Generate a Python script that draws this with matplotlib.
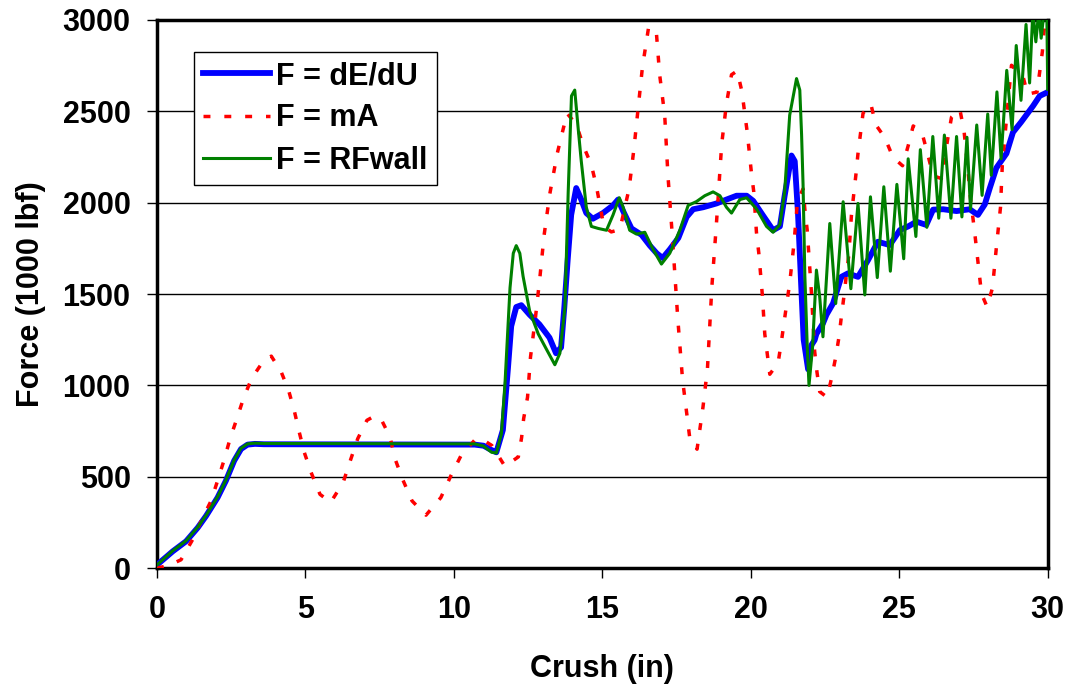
import matplotlib
matplotlib.use('Agg')
import matplotlib.pyplot as plt

plt.rcParams['font.family'] = ['Liberation Sans', 'DejaVu Sans']
plt.rcParams['font.weight'] = 'bold'

# F = dE/dU (blue)
de_x = [0, 0.53, 0.98, 1.37, 1.65, 2.04, 2.32, 2.6, 2.83, 3.05, 3.3, 3.6, 10.7, 11.0, 11.21, 11.43,
        11.65, 11.82, 11.93, 12.1, 12.27, 12.55, 12.88, 13.22, 13.44, 13.61, 13.72, 13.83, 13.95,
        14.12, 14.29, 14.46, 14.68, 15.02, 15.36, 15.53, 15.7, 15.98, 16.32, 16.6, 16.83, 17.03,
        17.27, 17.56, 17.84, 18.06, 18.4, 18.85, 19.18, 19.52, 19.86, 20.08, 20.41, 20.75, 20.98,
        21.14, 21.37, 21.48, 21.59, 21.71, 21.78, 21.93, 22.04, 22.15, 22.21, 22.43, 22.55, 22.77,
        23.05, 23.27, 23.61, 23.95, 24.28, 24.68, 25.02, 25.3, 25.58, 25.91, 26.14, 26.48, 26.93,
        27.37, 27.65, 27.88, 28.05, 28.27, 28.61, 28.83, 29.1, 29.51, 29.73, 30.0]
de_y = [18, 92, 147, 221, 285, 386, 478, 588, 652, 676, 680, 678, 676, 670, 651, 634,
        756, 1092, 1324, 1429, 1439, 1387, 1334, 1261, 1176, 1208, 1429, 1681, 1933,
        2080, 2017, 1943, 1912, 1943, 1985, 2017, 1954, 1859, 1824, 1765, 1723, 1697,
        1744, 1807, 1922, 1964, 1975, 1996, 2017, 2038, 2038, 2010, 1930, 1849, 1870,
        2038, 2258, 2227, 1940, 1500, 1250, 1088, 1220, 1248, 1282, 1339, 1387, 1449,
        1594, 1613, 1594, 1686, 1786, 1768, 1850, 1870, 1896, 1878, 1962, 1964, 1954,
        1964, 1933, 1990, 2080, 2190, 2269, 2385, 2440, 2530, 2584, 2605]

# F = mA (red)
ma_x = [0, 0.4, 0.81, 1.2, 1.54, 1.82, 2.04, 2.27, 2.46, 2.69, 2.91, 3.19, 3.61, 3.85, 4.18, 4.43,
        4.62, 4.79, 4.96, 5.19, 5.49, 5.85, 6.27, 6.51, 6.76, 7.07, 7.3, 7.54, 7.85, 8.02, 8.27,
        8.59, 9.06, 9.56, 9.9, 10.24, 10.74, 11.0, 11.28, 11.72, 12.17, 12.28, 12.35, 12.48, 12.58,
        12.75, 12.9, 13.04, 13.23, 13.48, 13.81, 14.13, 14.35, 14.63, 14.8, 15.05, 15.3, 15.59,
        15.9, 16.06, 16.2, 16.35, 16.56, 16.82, 16.93, 17.1, 17.21, 17.36, 17.54, 17.7, 17.95,
        18.19, 18.39, 18.54, 18.69, 18.84, 19.02, 19.18, 19.35, 19.54, 19.7, 19.88, 20.02, 20.1,
        20.19, 20.27, 20.39, 20.47, 20.56, 20.64, 20.92, 21.03, 21.12, 21.22, 21.31, 21.46, 21.57,
        21.76, 21.82, 21.9, 21.99, 22.04, 22.15, 22.23, 22.32, 22.57, 22.72, 22.86, 22.97, 23.05,
        23.14, 23.22, 23.3, 23.39, 23.47, 23.54, 23.61, 23.78, 24.04, 24.21, 24.51, 24.79, 25.11,
        25.3, 25.47, 25.78, 25.97, 26.14, 26.42, 26.64, 26.76, 27.04, 27.18, 27.32, 27.37, 27.54,
        27.69, 27.77, 27.96, 28.14, 28.27, 28.34, 28.41, 28.47, 28.59, 28.78, 29.0, 29.17, 29.32,
        29.64, 29.82, 29.87, 29.95]
ma_y = [0, 15, 46, 156, 276, 368, 478, 597, 708, 818, 928, 1039, 1140, 1160, 1075, 974,
        864, 745, 634, 524, 404, 360, 469, 588, 708, 809, 830, 818, 717, 597, 487,
        368, 290, 386, 506, 616, 708, 700, 671, 557, 609, 714, 819, 935, 1155,
        1376, 1597, 1824, 2048, 2269, 2489, 2426, 2315, 2206, 2090, 1870, 1840, 1853,
        2076, 2290, 2510, 2742, 2962, 2930, 2700, 2479, 2147, 1811, 1366, 1034, 704,
        651, 882, 1092, 1544, 1880, 2321, 2542, 2700, 2721, 2609, 2385, 2164, 2059,
        1838, 1723, 1492, 1282, 1166, 1061, 1124, 1239, 1345, 1460, 1559, 1786, 2006,
        2076, 1964, 1849, 1628, 1513, 1187, 1071, 966, 935, 1040, 1155, 1265, 1376,
        1492, 1607, 1712, 1933, 2048, 2153, 2269, 2489, 2542, 2426, 2357, 2248, 2202,
        2311, 2420, 2374, 2258, 2147, 2132, 2357, 2468, 2511, 2395, 2174, 2063, 1838,
        1618, 1502, 1429, 1534, 1754, 1866, 1975, 2202, 2420, 2752, 2720, 2690, 2594,
        2605, 2826, 2931, 3050]

# F = RFwall (green)
rf_x = [0, 0.53, 0.98, 1.37, 1.65, 2.04, 2.32, 2.6, 2.83, 3.05, 3.3, 3.6, 10.7, 11.0, 11.27, 11.43,
        11.6, 11.72, 11.89, 12.0, 12.1, 12.22, 12.33, 12.55, 12.84, 13.12, 13.4, 13.57, 13.74,
        13.85, 13.96, 14.07, 14.18, 14.29, 14.46, 14.63, 14.86, 15.14, 15.36, 15.57, 15.7, 15.92,
        16.15, 16.43, 16.71, 16.99, 17.27, 17.61, 17.89, 18.17, 18.45, 18.73, 18.96, 19.18, 19.35,
        19.63, 19.86, 20.2, 20.53, 20.75, 20.98, 21.14, 21.31, 21.54, 21.65, 21.71, 21.76, 21.82,
        21.9, 21.96, 22.08, 22.21, 22.32, 22.43, 22.66, 22.86, 23.11, 23.37, 23.61, 23.84, 24.03,
        24.26, 24.48, 24.7, 24.92, 25.15, 25.3, 25.56, 25.71, 25.93, 26.13, 26.33, 26.52, 26.74,
        26.93, 27.11, 27.28, 27.4, 27.61, 27.79, 27.98, 28.1, 28.29, 28.43, 28.62, 28.8, 28.94,
        29.1, 29.27, 29.39, 29.5, 29.6, 29.7, 29.78, 29.88, 29.97, 30.0]
rf_y = [18, 95, 150, 224, 288, 390, 482, 592, 656, 680, 684, 682, 680, 668, 634, 630,
        735, 1008, 1534, 1723, 1765, 1723, 1597, 1408, 1282, 1197, 1113, 1176, 1429,
        2059, 2584, 2616, 2416, 2227, 1975, 1870, 1859, 1849, 1933, 2027, 1975, 1849,
        1828, 1838, 1744, 1664, 1723, 1849, 1985, 2006, 2038, 2059, 2038, 1975, 1943,
        2017, 2027, 1964, 1870, 1838, 1880, 2059, 2479, 2679, 2616, 2374, 2100, 1600,
        1218, 1000, 1212, 1631, 1485, 1266, 1886, 1448, 2005, 1529, 1996, 1495, 2032,
        1590, 2087, 1625, 2100, 1693, 2240, 1815, 2290, 1865, 2362, 1915, 2370, 1915,
        2362, 1922, 2358, 1965, 2425, 2040, 2485, 2150, 2606, 2240, 2724, 2400, 2860,
        2560, 2975, 2655, 3050, 2880, 3050, 2900, 3050, 3050, 2620]

fig = plt.figure(figsize=(10.68, 6.87), dpi=100)
ax = fig.add_axes([0.147, 0.173, 0.834, 0.798])

ax.plot(de_x, de_y, color='#0000FF', lw=4.2, label='F = dE/dU', zorder=3)
ax.plot(ma_x, ma_y, color='#FF0000', lw=2.5, linestyle=(0, (2, 4)), label='F = mA', zorder=4)
ax.plot(rf_x, rf_y, color='#008000', lw=2.2, label='F = RFwall', zorder=5)

ax.set_xlim(0, 30)
ax.set_ylim(0, 3000)
ax.set_xticks(range(0, 31, 5))
ax.set_yticks(range(0, 3001, 500))
ax.yaxis.grid(True, color='black', lw=1)
ax.set_axisbelow(True)

for sp in ax.spines.values():
    sp.set_linewidth(2.5)
ax.tick_params(direction='out', length=7, width=1, labelsize=22, pad=12)

ax.set_xlabel('Crush (in)', fontsize=22, fontweight='bold', labelpad=21)
ax.set_ylabel('Force (1000 lbf)', fontsize=22, fontweight='bold', labelpad=12)

leg = ax.legend(loc='upper left', bbox_to_anchor=(0.0415, 0.9416), borderaxespad=0,
                fontsize=22, handlelength=2.2, handletextpad=0.2, borderpad=0.3,
                labelspacing=0.4, fancybox=False, framealpha=1, edgecolor='black')
leg.get_frame().set_linewidth(1)

fig.savefig('out.png', dpi=100)
